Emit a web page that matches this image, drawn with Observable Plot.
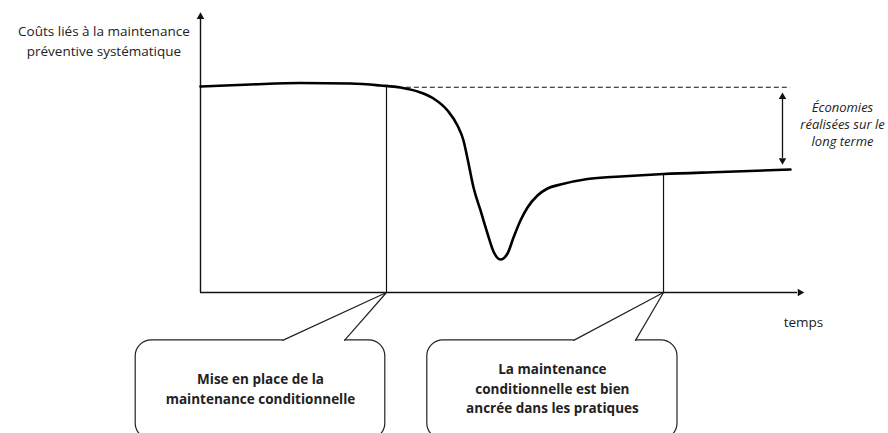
<!DOCTYPE html>
<html><head><meta charset="utf-8">
<script src="https://cdn.jsdelivr.net/npm/d3@7"></script>
<script src="https://cdn.jsdelivr.net/npm/@observablehq/plot@0.6"></script>
<style>html,body{margin:0;background:#fff} #chart svg{display:block} #chart text.reg{letter-spacing:0.4px}</style>
</head><body><div id="chart"></div>
<script>
// Curve: cost over time (arbitrary units)
const curveTime = [0, 8.33, 16.67, 25, 30, 33.33, 36.67, 38.83, 41.17, 42.83, 43.83, 44.5, 45.5, 46.67, 47.83, 48.83, 50, 51.17, 52.17, 53.33, 54.5, 56.17, 57.83, 60, 64.5, 70, 77.17, 86.67, 98.33];
const curveCost = [73.57, 74.29, 74.82, 74.64, 73.93, 73.21, 71.43, 69.29, 65, 59.64, 54.29, 47.86, 37.5, 29.29, 21.07, 14.64, 11.79, 13.93, 19.64, 25.71, 30.36, 34.64, 37.14, 38.57, 40.54, 41.43, 42.32, 43.04, 43.93];

// Milestones (time, cost at milestone)
const milestoneTime = [31, 77.17];
const milestoneCost = [73.8, 42.32];

// Savings annotation
const initialLevel = 73.3;
const longTermLevel = 43.9;
const savingsTime = 97;
const dashStart = 34.3;
const curveEnd = 98.33;

// Callouts
const calloutLeft = [-10.8, 37.8];
const calloutRight = [30.8, 79.5];
const calloutTop = -17.1;
const calloutBottom = -52.5;
const pointerBaseA = [13.7, 62.2];
const pointerBaseB = [24.0, 72.5];
const calloutText = ["Mise en place de la\nmaintenance conditionnelle", "La maintenance\nconditionnelle est bien\nancrée dans les pratiques"];
const calloutTextCost = [-34.1, -33.9];

// Axis labels
const yLabel = "Coûts liés à la maintenance\npréventive systématique";
const xLabel = "temps";
const savingsLabel = "Économies\nréalisées sur le\nlong terme";

const curve = curveTime.map((t, i) => ({t, c: curveCost[i]}));
const milestones = milestoneTime.map((t, i) => ({t, c: milestoneCost[i]}));
const boxes = calloutLeft.map((l, i) => ({
  x1: l, x2: calloutRight[i], y1: calloutBottom, y2: calloutTop,
  a: pointerBaseA[i], b: pointerBaseB[i], tip: milestoneTime[i],
  text: calloutText[i], tx: (l + calloutRight[i]) / 2, ty: calloutTextCost[i]
}));
const pointers = boxes.flatMap((d, i) => [
  {t: d.a, c: calloutTop, k: i}, {t: d.tip, c: 0, k: i}, {t: d.b, c: calloutTop, k: i}
]);

const font = "'Open Sans', sans-serif";
const chart = Plot.plot({
  width: 888, height: 433,
  marginLeft: 200, marginRight: 88, marginTop: 12, marginBottom: 141,
  x: {domain: [0, 100], axis: null},
  y: {domain: [0, 100], axis: null},
  style: {fontFamily: font, overflow: "hidden", background: "#fff"},
  marks: [
    // axes
    Plot.ruleX([0], {y1: 0, y2: 98, stroke: "#111", strokeWidth: 1.4}),
    Plot.ruleY([0], {x1: 0, x2: 99.5, stroke: "#111", strokeWidth: 1.4}),
    Plot.dot([{t: 0, c: 98.5}], {x: "t", y: "c", symbol: "triangle", r: 2.8, fill: "#111"}),
    Plot.dot([{t: 99.9, c: 0}], {x: "t", y: "c", symbol: "triangle", r: 2.8, fill: "#111", rotate: 90}),
    // milestone verticals
    Plot.ruleX(milestones, {x: "t", y1: 0, y2: "c", stroke: "#111", strokeWidth: 1.2}),
    // dashed initial level
    Plot.ruleY([initialLevel], {x1: dashStart, x2: curveEnd, stroke: "#111", strokeWidth: 1.2, strokeDasharray: "5,3"}),
    // savings double arrow
    Plot.ruleX([savingsTime], {y1: longTermLevel + 4, y2: initialLevel - 4, stroke: "#111", strokeWidth: 1.3}),
    Plot.dot([{t: savingsTime, c: initialLevel - 3.4}], {x: "t", y: "c", symbol: "triangle", r: 2.8, fill: "#111"}),
    Plot.dot([{t: savingsTime, c: longTermLevel + 3.3}], {x: "t", y: "c", symbol: "triangle", r: 2.8, fill: "#111", rotate: 180}),
    // main curve
    Plot.line(curve, {x: "t", y: "c", curve: "monotone-x", stroke: "#000", strokeWidth: 2.6}),
    // callouts
    Plot.rect(boxes, {x1: "x1", x2: "x2", y1: "y1", y2: "y2", rx: 16, fill: "#fff", stroke: "#222", strokeWidth: 1.2}),
    Plot.link(boxes, {x1: "a", x2: "b", y1: calloutTop, y2: calloutTop, stroke: "#fff", strokeWidth: 3}),
    Plot.line(pointers, {x: "t", y: "c", z: "k", stroke: "#222", strokeWidth: 1.2, strokeLinejoin: "miter"}),
    Plot.text(boxes, {x: "tx", y: "ty", text: "text", fontSize: 13.5, fontWeight: "bold", fill: "#222", lineHeight: 1.45, textAnchor: "middle"}),
    // labels
    Plot.text([yLabel], {x: -16.1, y: 90.2, text: d => d, fontSize: 13.5, fill: "#222", lineHeight: 1.48, textAnchor: "middle", className: "reg"}),
    Plot.text([xLabel], {x: 100.5, y: -10.7, text: d => d, fontSize: 13.5, fill: "#222", textAnchor: "middle", className: "reg"}),
    Plot.text([savingsLabel], {x: 107, y: 60.3, text: d => d, fontSize: 13, fontStyle: "italic", fill: "#222", lineHeight: 1.3, textAnchor: "middle"})
  ]
});
document.getElementById("chart").appendChild(chart);
</script>
</body></html>
